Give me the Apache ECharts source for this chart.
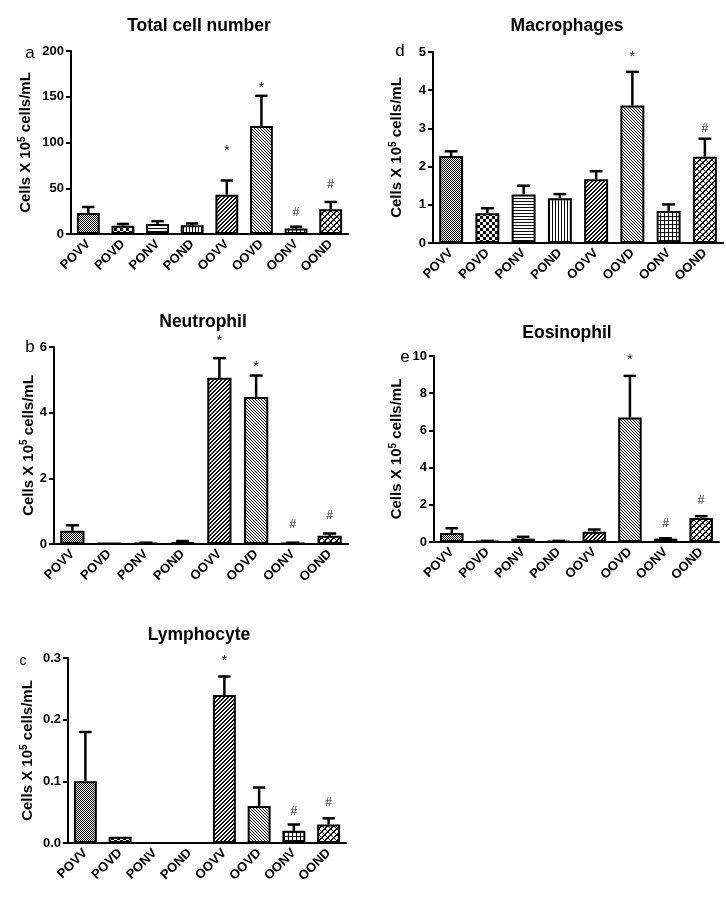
<!DOCTYPE html>
<html><head><meta charset="utf-8">
<script src="https://cdn.jsdelivr.net/npm/echarts@6/dist/echarts.min.js"></script>
<style>html,body{margin:0;padding:0;background:#fff}#c{width:726px;height:910px}</style>
</head><body><div id="c"></div>
<script>
const categories = ['POVV','POVD','PONV','POND','OOVV','OOVD','OONV','OOND'];

const totalMean = [23, 9, 11, 9.5, 43, 118, 6, 27];
const totalSem  = [6.5, 2, 3, 2, 15.5, 33, 2, 8];
const totalMarks = ['', '', '', '', '*', '*', '#', '#'];
const totalMarkY = [0, 0, 0, 0, 91, 160, 23, 54];

const neutMean = [0.4, 0.03, 0.03, 0.06, 5.06, 4.48, 0.03, 0.25];
const neutSem  = [0.17, 0, 0.01, 0.03, 0.6, 0.65, 0.01, 0.07];
const neutMarks = ['', '', '', '', '*', '*', '#', '#'];
const neutMarkY = [0, 0, 0, 0, 6.2, 5.4, 0.6, 0.85];

const lymphMean = [0.1, 0.01, 0, 0, 0.24, 0.06, 0.02, 0.03];
const lymphSem  = [0.08, 0, 0, 0, 0.03, 0.03, 0.01, 0.01];
const lymphMarks = ['', '', '', '', '*', '', '#', '#'];
const lymphMarkY = [0, 0, 0, 0, 0.295, 0, 0.05, 0.066];

const macroMean = [2.28, 0.78, 1.27, 1.17, 1.67, 3.6, 0.84, 2.26];
const macroSem  = [0.12, 0.13, 0.23, 0.11, 0.21, 0.88, 0.17, 0.47];
const macroMarks = ['', '', '', '', '', '*', '', '#'];
const macroMarkY = [0, 0, 0, 0, 0, 4.87, 0, 3.0];

const eosMean = [0.48, 0.05, 0.18, 0.05, 0.55, 6.7, 0.18, 1.29];
const eosSem  = [0.26, 0.01, 0.1, 0.01, 0.12, 2.23, 0.02, 0.1];
const eosMarks = ['', '', '', '', '', '*', '#', '#'];
const eosMarkY = [0, 0, 0, 0, 0, 9.8, 1.0, 2.2];

// pattern fills
function makePat(n, fn) {
  const cv = document.createElement('canvas');
  cv.width = n; cv.height = n;
  const ctx = cv.getContext('2d');
  const img = ctx.createImageData(n, n);
  for (let y = 0; y < n; y++) for (let x = 0; x < n; x++) {
    const k = (y * n + x) * 4;
    const v = fn(x, y) ? 10 : 250;
    img.data[k] = v; img.data[k+1] = v; img.data[k+2] = v; img.data[k+3] = 255;
  }
  ctx.putImageData(img, 0, 0);
  return { image: cv, repeat: 'repeat' };
}
const patterns = [
  makePat(2, (x, y) => (x + y) % 2 === 0),
  makePat(6, (x, y) => (Math.floor(x / 3) + Math.floor(y / 3)) % 2 === 0),
  makePat(3, (x, y) => y % 3 === 0),
  makePat(3, (x, y) => x % 3 === 0),
  makePat(4, (x, y) => (x + y) % 4 < 2),
  makePat(3, (x, y) => (x - y + 3) % 3 === 0),
  makePat(4, (x, y) => x % 4 === 0 || y % 4 === 0),
  makePat(6, (x, y) => (x + y) % 6 < 2 || (x - y + 6) % 6 === 0)
];

const FONT = 'Liberation Sans, Arial, sans-serif';

const panels = [
  { title: 'Total cell number', letter: 'a', mean: totalMean, sem: totalSem, marks: totalMarks, markY: totalMarkY,
    grid: { left: 71, top: 51, width: 277, height: 183 }, max: 200, interval: 50, dec: 0,
    titlePos: [194, 23], letterPos: [30, 53], letterSize: 17, nameGap: 36 },
  { title: 'Macrophages', letter: 'd', mean: macroMean, sem: macroSem, marks: macroMarks, markY: macroMarkY,
    grid: { left: 433, top: 52, width: 290, height: 191 }, max: 5, interval: 1, dec: 0,
    titlePos: [562, 23], letterPos: [400, 51], letterSize: 17, nameGap: 27 },
  { title: 'Neutrophil', letter: 'b', mean: neutMean, sem: neutSem, marks: neutMarks, markY: neutMarkY,
    grid: { left: 54, top: 347, width: 294, height: 197 }, max: 6, interval: 2, dec: 0,
    titlePos: [198, 319], letterPos: [30, 347], letterSize: 17, nameGap: 16 },
  { title: 'Eosinophil', letter: 'e', mean: eosMean, sem: eosSem, marks: eosMarks, markY: eosMarkY,
    grid: { left: 434, top: 356, width: 285, height: 186 }, max: 10, interval: 2, dec: 0,
    titlePos: [562, 330], letterPos: [405, 357], letterSize: 17, nameGap: 28 },
  { title: 'Lymphocyte', letter: 'c', mean: lymphMean, sem: lymphSem, marks: lymphMarks, markY: lymphMarkY,
    grid: { left: 68, top: 658, width: 278, height: 185 }, max: 0.3, interval: 0.1, dec: 1,
    titlePos: [194, 632], letterPos: [23, 661], letterSize: 14, nameGap: 31 }
];

const option = { animation: false, backgroundColor: '#fff',
  grid: [], xAxis: [], yAxis: [], series: [], title: [], graphic: [] };

panels.forEach((p, gi) => {
  option.grid.push(Object.assign({ containLabel: false }, p.grid));
  option.xAxis.push({
    type: 'category', gridIndex: gi, data: categories,
    axisLine: { lineStyle: { color: '#000', width: 2 } },
    axisTick: { alignWithLabel: true, length: 5, lineStyle: { color: '#000', width: 2 } },
    axisLabel: { rotate: 45, color: '#000', fontFamily: FONT, fontWeight: 'bold', fontSize: 13, margin: 8, interval: 0 }
  });
  option.yAxis.push({
    type: 'value', gridIndex: gi, min: 0, max: p.max, interval: p.interval,
    splitLine: { show: false },
    axisLine: { show: true, lineStyle: { color: '#000', width: 2 } },
    axisTick: { show: true, length: 5, lineStyle: { color: '#000', width: 2 } },
    axisLabel: { color: '#000', fontFamily: FONT, fontWeight: 'bold', fontSize: 13, margin: 7,
      formatter: v => v.toFixed(p.dec) },
    name: '{a|Cells X 10}{s|5}{a| cells/mL}', nameLocation: 'middle', nameRotate: 90, nameGap: p.nameGap,
    nameTextStyle: { rich: {
      a: { fontFamily: FONT, fontWeight: 'bold', fontSize: 15, color: '#000' },
      s: { fontFamily: FONT, fontWeight: 'bold', fontSize: 10, color: '#000', padding: [0, 0, 8, 0] } } }
  });
  option.series.push({
    type: 'bar', xAxisIndex: gi, yAxisIndex: gi, barWidth: '66%',
    data: p.mean.map((v, i) => ({ value: v, itemStyle: { color: patterns[i], borderColor: '#000', borderWidth: 2 } }))
  });
  option.series.push({
    type: 'custom', xAxisIndex: gi, yAxisIndex: gi, z: 5,
    data: p.mean.map((v, i) => [i, v, p.sem[i]]),
    renderItem: (params, api) => {
      const x = api.value(0), m = api.value(1), e = api.value(2);
      if (!(e > 0)) return null;
      const p0 = api.coord([x, m]), p1 = api.coord([x, m + e]);
      const hw = api.size([1, 0])[0] * 0.66 * 0.27;
      return { type: 'group', children: [
        { type: 'line', shape: { x1: p0[0], y1: p0[1], x2: p1[0], y2: p1[1] }, style: { stroke: '#000', lineWidth: 2.5 } },
        { type: 'line', shape: { x1: p1[0] - hw, y1: p1[1], x2: p1[0] + hw, y2: p1[1] }, style: { stroke: '#000', lineWidth: 2.5 } }
      ] };
    }
  });
  option.series.push({
    type: 'custom', xAxisIndex: gi, yAxisIndex: gi, z: 6,
    data: p.marks.map((mk, i) => [i, p.markY[i], mk]),
    renderItem: (params, api) => {
      const mk = p.marks[params.dataIndex];
      if (!mk) return null;
      const c = api.coord([api.value(0), api.value(1)]);
      return { type: 'text', x: c[0], y: c[1], style: {
        text: mk, fill: '#222', font: (mk === '*' ? '15px ' : '12px ') + FONT,
        textAlign: 'center', textVerticalAlign: 'middle' } };
    }
  });
  option.title.push({ text: p.title, left: p.titlePos[0], top: p.titlePos[1] - 11, textAlign: 'center',
    textStyle: { fontFamily: FONT, fontWeight: 'bold', fontSize: 17.5, color: '#000' } });
  option.graphic.push({ type: 'text', x: p.letterPos[0], y: p.letterPos[1],
    style: { text: p.letter, font: p.letterSize + 'px ' + FONT, fill: '#000', textAlign: 'center', textVerticalAlign: 'middle' } });
});

const chart = echarts.init(document.getElementById('c'), null, { renderer: 'canvas' });
chart.setOption(option);
</script></body></html>
